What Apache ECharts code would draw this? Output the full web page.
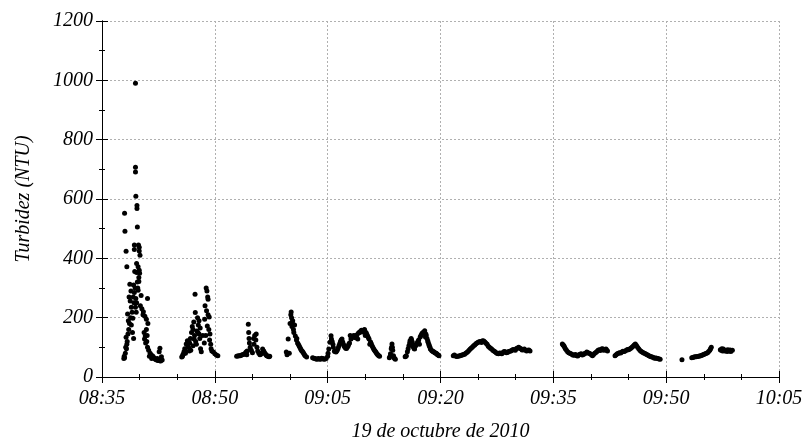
<!DOCTYPE html>
<html>
<head>
<meta charset="utf-8">
<script src="https://cdn.jsdelivr.net/npm/echarts@6/dist/echarts.min.js"></script>
<style>
html,body{margin:0;padding:0;background:#fff;}
#chart{width:807px;height:447px;}
</style>
</head>
<body>
<div id="chart"></div>
<script>
// x values: minutes after 08:35 ; y values: turbidity (NTU)
const xTickStartLabel = "08:35";
const yTicks = [0, 200, 400, 600, 800, 1000, 1200];
const xAxisTitle = "19 de octubre de 2010";
const yAxisTitle = "Turbidez (NTU)";

const burst0838 = [
  [3.0,552],[3.05,491],[3.2,424],[3.3,372],[3.6,270],[3.4,212],[3.5,190],[3.55,160],[3.2,134],[3.3,110],
  [3.25,95],[3.1,80],[2.95,70],[3.0,65],[3.7,313],[3.85,290],[3.75,256],[3.9,235],[4.0,218],[4.1,198],
  [3.65,180],[3.45,145],[3.35,120],[3.15,100],[2.9,62],
  [4.45,990],[4.45,707],[4.45,691],[4.5,609],[4.65,578],[4.65,568],[4.7,506],[4.3,445],[4.3,430],[4.85,445],
  [4.95,437],[4.95,425],[5.05,410],[4.6,383],[4.8,372],[4.95,360],[5.0,350],[4.9,335],[4.9,322],[4.35,356],
  [4.6,352],[4.2,310],[4.4,300],[4.3,285],[4.5,265],[4.6,250],[4.8,292],[5.2,275],[4.45,235],[4.55,218],
  [5.45,210],[5.7,205],[5.9,195],[6.05,265],[6.1,180],[5.9,160],[5.75,138],[5.65,128],[5.8,115],[6.05,100],
  [6.2,90],[6.4,80],[6.7,72],[6.9,65],[7.1,60],[7.4,56],[7.7,55],[8.0,57],[7.35,62],[7.7,97],
  [7.6,85],[7.9,68],[5.5,220],[5.6,150],[6.3,70],[6.6,62],
  [4.15,270],[4.25,250],[4.7,320],[4.75,300],[5.1,240],[5.3,230],[3.8,200],[3.9,175],[4.05,150],[4.2,130],
  [5.95,120],[6.0,140],[6.5,75],[6.8,68],[7.0,62],[7.2,58],[7.5,58],[7.8,54]
];
const burst0846 = [
  [10.6,67],[10.75,75],[10.9,85],[11.0,95],[11.1,80],[11.2,111],[11.35,122],[11.5,100],[11.6,88],[11.75,130],
  [11.9,150],[12.0,170],[12.1,160],[12.2,185],[12.3,140],[12.4,217],[12.37,279],[12.45,120],[12.55,110],[12.6,155],
  [12.7,200],[12.8,175],[12.9,145],[13.0,130],[13.1,95],[13.2,85],[12.1,105],[11.8,90],[12.9,190],[13.05,165],
  [13.85,300],[13.95,290],[14.05,270],[14.1,262],[13.9,223],[14.1,210],[14.25,202],[14.0,172],[14.2,160],[14.35,145],
  [14.3,125],[14.45,110],[14.5,95],[14.6,88],[13.7,240],[13.65,195],[13.8,140],[13.6,115],[14.8,84],[15.0,78],
  [15.2,74],[15.4,72],[10.7,70],[10.85,78],[11.05,88],[11.4,105],[11.65,115],[12.25,128],[12.75,150],[13.4,140]
];
const burst0853 = [
  [17.9,70],[18.2,72],[18.5,73],[18.8,76],[19.1,80],[19.3,88],[19.45,178],[19.5,150],[19.55,130],[19.6,115],
  [19.7,100],[19.85,90],[20.0,82],[20.2,110],[20.3,140],[20.45,125],[20.6,100],[20.7,88],[20.85,80],[21.0,75],
  [21.2,80],[21.35,94],[21.5,88],[21.7,78],[21.9,72],[22.1,70],[22.3,70],[20.15,130],[20.5,145],[19.25,75],
  [18.05,71],[18.35,72],[18.65,75],[18.95,78],[19.15,84],[21.1,77],[21.6,82],[21.8,75],[22.0,71],[22.2,68]
];
const burst0859 = [
  [24.5,84],[24.6,75],[24.75,128],[24.9,80],[25.1,210],[25.15,219],[25.2,200],[25.3,185],[25.25,170],[25.35,190],
  [25.45,160],[25.5,150],[25.6,175],[25.7,138],[25.85,125],[26.0,115],[26.2,105],[26.4,95],[26.6,88],[26.8,80],
  [27.0,72],[27.2,67],[25.0,180],[25.9,130],[26.1,110],[26.3,100],[26.5,90],[26.7,84],[26.9,76],
  [28.0,65],[28.3,62],[28.6,60],[28.9,61],[29.2,63],[29.5,60],[29.8,62],[28.15,63],[28.45,61],[28.75,62],[29.05,60],[29.35,62],[29.65,61]
];
const burst0905 = [
  [30.0,70],[30.15,94],[30.3,117],[30.45,139],[30.6,120],[30.75,100],[30.9,87],[31.1,84],[31.3,92],[31.5,105],
  [31.7,120],[31.9,128],[32.1,110],[32.3,100],[32.5,96],[32.7,104],[32.9,115],[33.1,128],[33.3,135],[33.5,140],
  [33.7,132],[33.9,142],[34.1,148],[34.3,152],[34.5,158],[34.7,155],[34.9,160],[35.1,150],[35.3,138],[35.5,128],
  [35.7,118],[35.9,105],[36.1,95],[36.3,88],[36.5,80],[36.7,74],[36.9,70],[33.0,140],[34.0,128],[35.0,140],[35.6,110],
  [30.05,80],[30.5,128],[30.7,110],[31.0,86],[31.2,88],[31.4,98],[31.6,112],[31.8,125],[32.0,118],[32.2,104],
  [32.4,97],[32.6,100],[32.8,110],[33.2,132],[33.4,138],[33.6,136],[33.8,137],[34.2,150],[34.4,155],[34.6,152],
  [34.8,158],[35.2,144],[35.4,133],[35.8,112],[36.0,100],[36.2,91],[36.4,84],[36.6,77],[36.8,72]
];
const burst0913 = [
  [38.2,65],[38.35,78],[38.45,95],[38.55,111],[38.65,90],[38.75,72],[38.9,62],[39.0,60],[38.5,100],[38.3,70],[38.6,100],[38.8,66]
];
const burst0915 = [
  [40.3,68],[40.45,72],[40.6,85],[40.8,105],[40.95,122],[41.1,130],[41.25,118],[41.4,100],[41.55,94],[41.7,105],
  [41.9,115],[42.1,125],[42.3,135],[42.5,145],[42.7,150],[42.9,156],[43.05,145],[43.2,130],[43.35,117],[43.5,105],
  [43.65,94],[43.8,90],[44.0,86],[44.2,83],[44.4,80],[44.6,75],[44.8,72],[41.0,110],[42.2,110],[43.0,135],
  [40.4,70],[40.7,95],[40.9,115],[41.15,125],[41.35,108],[41.5,96],[41.8,110],[42.0,120],[42.4,140],[42.6,148],
  [42.8,152],[43.1,140],[43.3,122],[43.45,110],[43.6,100],[43.9,88],[44.1,85],[44.3,81],[44.5,78],[44.7,74]
];
const burst0921 = [
  [46.7,72],[47.0,71],[47.3,70],[47.6,72],[47.9,74],[48.2,77],[48.5,83],[48.8,90],[49.1,98],[49.4,105],
  [49.7,112],[50.0,117],[50.3,120],[50.6,122],[50.9,118],[51.2,110],[51.5,100],[51.8,94],[52.1,88],[52.4,82],
  [52.7,78],[53.0,80],[53.3,83],[53.6,85],[53.9,83],[54.2,87],[54.5,90],[54.8,92],[55.1,96],[55.4,100],
  [55.7,95],[56.0,92],[56.3,90],[56.6,90],[56.9,88],
  [46.85,74],[47.15,69],[47.45,71],[47.75,73],[48.05,76],[48.35,80],[48.65,86],[48.95,94],[49.25,101],[49.55,108],
  [49.85,115],[50.15,119],[50.45,116],[50.75,121],[51.05,114],[51.35,104],[51.65,97],[51.95,90],[52.25,85],[52.55,79],
  [52.85,81],[53.15,78],[53.45,86],[53.75,82],[54.05,86],[54.35,88],[54.65,93],[54.95,90],[55.25,98],[55.55,97],
  [55.85,91],[56.15,94],[56.45,88],[56.75,91]
];
const burst0936 = [
  [61.2,111],[61.4,105],[61.6,95],[61.9,85],[62.2,80],[62.5,76],[62.8,74],[63.1,72],[63.4,75],[63.7,78],
  [64.0,76],[64.3,80],[64.6,82],[64.9,78],[65.2,72],[65.5,80],[65.8,86],[66.1,92],[66.4,94],[66.7,90],
  [67.0,94],[67.2,88],
  [68.2,72],[68.5,78],[68.8,82],[69.1,84],[69.4,86],[69.7,90],[70.0,92],[70.3,97],[70.6,104],[70.9,111],
  [71.2,100],[71.5,90],[71.8,84],[72.1,80],[72.4,76],[72.7,72],[73.0,68],[73.3,66],[73.6,64],[73.9,62],[74.2,60],
  [61.3,108],[61.5,100],[61.75,90],[62.05,82],[62.35,78],[62.65,73],[62.95,76],[63.25,71],[63.55,77],[63.85,74],
  [64.15,79],[64.45,84],[64.75,80],[65.05,75],[65.35,76],[65.65,83],[65.95,90],[66.25,89],[66.55,95],[66.85,92],
  [67.1,90],[68.35,75],[68.65,80],[68.95,81],[69.25,87],[69.55,88],[69.85,93],[70.15,94],[70.45,100],[70.75,108],
  [71.05,106],[71.35,95],[71.65,87],[71.95,82],[72.25,78],[72.55,74],[72.85,70],[73.15,67],[73.45,63],[73.75,63],[74.05,61]
];
const burst0952 = [
  [77.1,58],[78.4,65],[78.7,67],[79.0,68],[79.3,70],[79.6,72],[79.9,75],[80.2,78],[80.5,82],[80.8,90],[81.0,100],
  [78.55,66],[78.85,68],[79.15,69],[79.45,71],[79.75,73],[80.05,77],[80.35,80],[80.65,86],[80.9,95]
];
const burst0957 = [
  [82.2,92],[82.4,95],[82.6,94],[82.8,88],[83.0,90],[83.2,92],[83.4,88],[83.6,86],[83.8,90],[82.5,88],[83.1,86],[82.3,90],[82.7,91],[83.5,91]
];

const allPoints = [].concat(burst0838, burst0846, burst0853, burst0859, burst0905,
  burst0913, burst0915, burst0921, burst0936, burst0952, burst0957);

function fmtTime(v) {
  const parts = xTickStartLabel.split(":");
  const t = parseInt(parts[0], 10) * 60 + parseInt(parts[1], 10) + Math.round(v);
  const hh = Math.floor(t / 60), mm = t % 60;
  return String(hh).padStart(2, "0") + ":" + String(mm).padStart(2, "0");
}

const FONT = "'Liberation Serif','Times New Roman',serif";
const labelStyle = { fontFamily: FONT, fontStyle: "italic", fontSize: 20, color: "#000" };
const axisLine = { show: true, lineStyle: { color: "#000", width: 1 } };
const splitLine = { show: true, lineStyle: { color: "#b0b0b0", type: [2, 2], width: 1 } };

const chart = echarts.init(document.getElementById("chart"), null, { renderer: "canvas" });
chart.setOption({
  animation: false,
  backgroundColor: "#fff",
  grid: { left: 102, right: 28, top: 21, bottom: 69, containLabel: false },
  xAxis: [
    {
      type: "value", min: 0, max: 90, interval: 15, position: "bottom",
      name: xAxisTitle, nameLocation: "middle", nameGap: 45,
      nameTextStyle: labelStyle,
      axisLine: axisLine,
      axisTick: { show: true, inside: true, length: 6, lineStyle: { color: "#000" } },
      minorTick: { show: true, splitNumber: 3, length: 3, lineStyle: { color: "#000" } },
      axisLabel: Object.assign({ margin: 12, formatter: fmtTime }, labelStyle),
      splitLine: splitLine
    },
    {
      type: "value", min: 0, max: 90, interval: 15, position: "top",
      axisLine: axisLine,
      axisTick: { show: true, inside: true, length: 6, lineStyle: { color: "#000" } },
      minorTick: { show: true, splitNumber: 3, length: 3, lineStyle: { color: "#000" } },
      axisLabel: { show: false }, splitLine: { show: false }
    }
  ],
  yAxis: [
    {
      type: "value", min: yTicks[0], max: yTicks[yTicks.length - 1], interval: yTicks[1] - yTicks[0], position: "left",
      name: yAxisTitle, nameLocation: "middle", nameGap: 68, nameRotate: 90,
      nameTextStyle: labelStyle,
      axisLine: axisLine,
      axisTick: { show: true, inside: true, length: 6, lineStyle: { color: "#000" } },
      minorTick: { show: true, splitNumber: 2, length: 3, lineStyle: { color: "#000" } },
      axisLabel: Object.assign({ margin: 9, formatter: function (v) { return String(v); } }, labelStyle),
      splitLine: splitLine
    },
    {
      type: "value", min: yTicks[0], max: yTicks[yTicks.length - 1], interval: yTicks[1] - yTicks[0], position: "right",
      axisLine: axisLine,
      axisTick: { show: true, inside: true, length: 6, lineStyle: { color: "#000" } },
      minorTick: { show: true, splitNumber: 2, length: 3, lineStyle: { color: "#000" } },
      axisLabel: { show: false }, splitLine: { show: false }
    }
  ],
  series: [{
    type: "scatter", xAxisIndex: 0, yAxisIndex: 0,
    data: allPoints, symbol: "circle", symbolSize: 5,
    itemStyle: { color: "#000", opacity: 1 }
  }]
});
</script>
</body>
</html>
